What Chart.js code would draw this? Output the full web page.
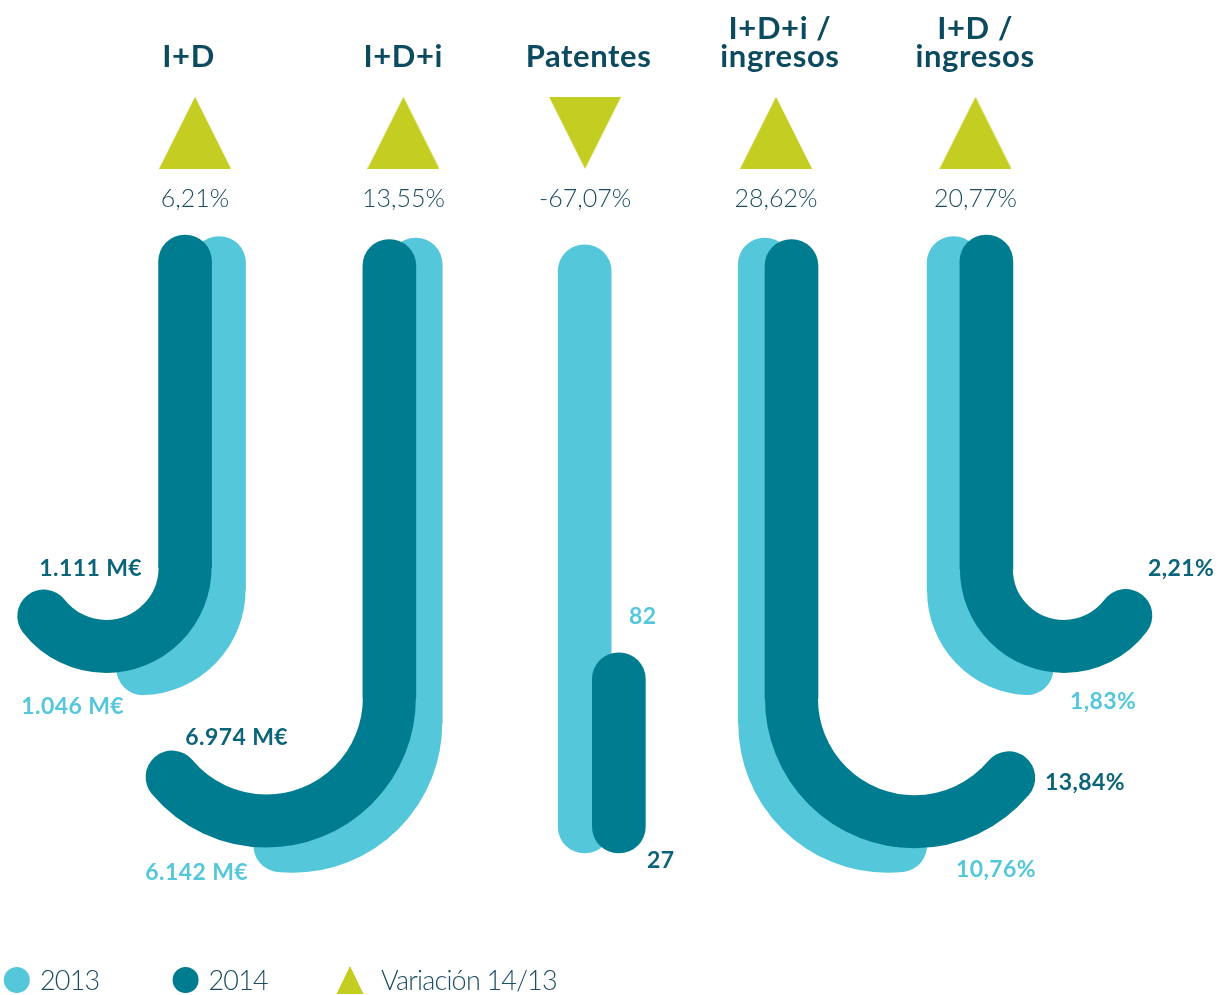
<!DOCTYPE html>
<html lang="es">
<head>
<meta charset="utf-8">
<title>I+D, I+D+i y patentes 2013-2014</title>
<script src="https://cdn.jsdelivr.net/npm/chart.js@4.4.1/dist/chart.umd.min.js"></script>
<style>
  html, body { margin: 0; padding: 0; background: #fff; }
  #wrap { width: 1229px; height: 995px; }
</style>
</head>
<body>
<div id="wrap"><canvas id="chart" width="1229" height="995"></canvas></div>
<script>
var CATEGORIES = ["I+D", "I+D+i", "Patentes", "I+D+i / ingresos", "I+D / ingresos"];
var SERIES = ["2013", "2014"];
var VALUES_2013 = [1046, 6142, 82, 10.76, 1.83];
var VALUES_2014 = [1111, 6974, 27, 13.84, 2.21];
var UNITS = [" M€", " M€", "", "%", "%"];
var DECIMALS = [0, 0, 0, 2, 2];
var VARIATION = [6.21, 13.55, -67.07, 28.62, 20.77];
var VARIATION_LABEL = "Variación 14/13";

// --- layout / style (not data) ---
var C_2013 = "#55c7db", C_2014 = "#007c91", C_TRI = "#c3cd22";
var C_TITLE = "#0b4a5f", C_TEXT = "#1a4d62", C_LAB14 = "#0b6479";
var STEM = 53;                 // stroke width of every J / bar
var Y_MAX = 115;               // y runs 0..115 over the 853px chart area
var TITLE_SHIFT = [-0.042, 0.057, 0.006, -0.014, -0.015];
var TRI_SHIFT = [-0.009, 0.058, -0.012, -0.034, -0.013];   // triangles + percentages
var SHIFT_2013 = [0.114, 0.121, -0.014, -0.092, -0.125];
var SHIFT_2014 = [-0.060, -0.014, 0.161, 0.045, 0.043];
var HOOK_DIR = [-1, -1, 0, 1, 1];   // 0 = plain bar (patentes)
var HOOK_R = [79, 123, 0, 123, 77.5];
var TOP_2013 = [83.1, 82.9, 0, 82.9, 83.1];
var TOP_2014 = [83.3, 82.7, 0, 82.7, 83.3];
var BEND_2013 = [35.5, 17.5, 0, 17.5, 35.3];
var BEND_2014 = [38.5, 20.9, 0, 20.8, 38.3];
var SWEEP_2013 = [88, 96, 0, 96, 87];
var SWEEP_2014 = [142, 140, 0, 140, 143];
var TRI_ROW = 97.1;
// value label anchors: dx in px from column centre, y in scale units
var LAB_2013 = [[-72.8, 19.8, "right"], [-144.1, -2.5, "right"], [41.6, 31.9, "left"], [173.3, -2.2, "left"], [92, 20.5, "left"]];
var LAB_2014 = [[-54.8, 38.4, "right"], [-104.1, 15.7, "right"], [59.6, -0.9, "left"], [262.3, 9.6, "left"], [170, 38.4, "left"]];

function fmt(v, dec) {
  var s = Math.abs(v).toFixed(dec).split(".");
  var intPart = s[0].replace(/\B(?=(\d{3})+(?!\d))/g, ".");
  return (v < 0 ? "-" : "") + intPart + (s[1] ? "," + s[1] : "");
}

function triangle(down) {
  var c = document.createElement("canvas");
  c.width = 72; c.height = 72;
  var g = c.getContext("2d");
  g.fillStyle = C_TRI;
  g.beginPath();
  if (down) { g.moveTo(0, 0); g.lineTo(72, 0); g.lineTo(36, 72); }
  else { g.moveTo(36, 0); g.lineTo(72, 72); g.lineTo(0, 72); }
  g.closePath(); g.fill();
  return c;
}
var TRI_UP = triangle(false), TRI_DOWN = triangle(true);

function barData(values, shift, top, bend) {
  return CATEGORIES.map(function (_, i) {
    return { x: i + shift[i], y: HOOK_DIR[i] === 0 ? [0, values[i]] : [bend[i], top[i]] };
  });
}

function radius(ctx) {
  var r = STEM / 2;
  return HOOK_DIR[ctx.dataIndex] === 0 ? r : { topLeft: r, topRight: r, bottomLeft: 0, bottomRight: 0 };
}

// curved foot of each J, drawn right after its own dataset
var hookPlugin = {
  id: "hooks",
  afterDatasetDraw: function (chart, args) {
    var ds = chart.data.datasets[args.index];
    if (!ds.sweep) return;
    var ctx = chart.ctx;
    ctx.save();
    ctx.strokeStyle = ds.backgroundColor;
    ctx.lineWidth = STEM;
    ctx.lineCap = "round";
    args.meta.data.forEach(function (bar, i) {
      var dir = HOOK_DIR[i];
      if (!dir) return;
      var r = HOOK_R[i], a = ds.sweep[i] * Math.PI / 180, cy = bar.base;
      ctx.beginPath();
      if (dir < 0) ctx.arc(bar.x - r, cy, r, 0, a, false);
      else ctx.arc(bar.x + r, cy, r, Math.PI, Math.PI - a, true);
      ctx.stroke();
    });
    ctx.restore();
  }
};

// titles, variation %, value labels and legend
var textPlugin = {
  id: "texts",
  afterDraw: function (chart) {
    var ctx = chart.ctx, xs = chart.scales.x, ys = chart.scales.y;
    ctx.save();
    ctx.textBaseline = "alphabetic";
    ctx.textAlign = "center";

    CATEGORIES.forEach(function (name, i) {
      var tx = xs.getPixelForValue(i + TITLE_SHIFT[i]);
      var parts = name.split(" / ");
      var lines = parts.length > 1 ? [parts[0] + " /", parts[1]] : [name];
      ctx.fillStyle = C_TITLE;
      ctx.font = "bold 31px Lato";
      ctx.letterSpacing = "0.6px";
      lines.forEach(function (ln, k) {
        ctx.fillText(ln, tx, 67 - (lines.length - 1 - k) * 28.5);
      });
      ctx.fillStyle = C_TEXT;
      ctx.font = "300 25px Lato";
      ctx.letterSpacing = "0px";
      ctx.fillText(fmt(VARIATION[i], 2) + "%", xs.getPixelForValue(i + TRI_SHIFT[i]), 207);
    });

    ctx.font = "bold 23px Lato";
    ctx.letterSpacing = "0.4px";
    [[VALUES_2013, LAB_2013, C_2013], [VALUES_2014, LAB_2014, C_LAB14]].forEach(function (s) {
      s[0].forEach(function (v, i) {
        var a = s[1][i];
        ctx.fillStyle = s[2];
        ctx.textAlign = a[2];
        ctx.fillText(fmt(v, DECIMALS[i]) + UNITS[i], xs.getPixelForValue(i) + a[0], ys.getPixelForValue(a[1]) + 8);
      });
    });

    // legend
    var ly = 980;
    ctx.font = "300 27px Lato";
    ctx.letterSpacing = "-0.8px";
    ctx.textAlign = "left";
    ctx.fillStyle = C_2013;
    ctx.beginPath(); ctx.arc(16.8, ly, 13, 0, 2 * Math.PI); ctx.fill();
    ctx.fillStyle = C_2014;
    ctx.beginPath(); ctx.arc(185.6, ly, 13, 0, 2 * Math.PI); ctx.fill();
    ctx.drawImage(TRI_UP, 336.5, ly - 14, 27, 28);
    ctx.fillStyle = C_TEXT;
    ctx.fillText(SERIES[0], 40, ly + 10);
    ctx.fillText(SERIES[1], 208.5, ly + 10);
    ctx.fillText(VARIATION_LABEL, 381, ly + 10);
    ctx.restore();
  }
};

new Chart(document.getElementById("chart"), {
  type: "bar",
  data: {
    datasets: [
      {
        label: SERIES[0], order: 2,
        data: barData(VALUES_2013, SHIFT_2013, TOP_2013, BEND_2013),
        backgroundColor: C_2013, sweep: SWEEP_2013,
        borderWidth: 0, borderSkipped: false, borderRadius: radius,
        barThickness: STEM, grouped: false, clip: false
      },
      {
        label: SERIES[1], order: 1,
        data: barData(VALUES_2014, SHIFT_2014, TOP_2014, BEND_2014),
        backgroundColor: C_2014, sweep: SWEEP_2014,
        borderWidth: 0, borderSkipped: false, borderRadius: radius,
        barThickness: STEM, grouped: false, clip: false
      },
      {
        type: "line", label: VARIATION_LABEL, order: 0,
        data: VARIATION.map(function (v, i) { return { x: i + TRI_SHIFT[i], y: TRI_ROW }; }),
        showLine: false, clip: false,
        pointStyle: function (c) { return VARIATION[c.dataIndex] < 0 ? TRI_DOWN : TRI_UP; },
        pointRadius: 36, pointHoverRadius: 36
      }
    ]
  },
  options: {
    responsive: false,
    devicePixelRatio: 1,
    animation: false,
    layout: { autoPadding: false, padding: { top: 0, right: 0, bottom: 142, left: 0 } },
    plugins: { legend: { display: false }, tooltip: { enabled: false } },
    scales: {
      x: { type: "linear", display: false, offset: false, min: -1.00768, max: 5.2852 },
      y: { type: "linear", display: false, min: 0, max: Y_MAX }
    }
  },
  plugins: [hookPlugin, textPlugin]
});
</script>
</body>
</html>
